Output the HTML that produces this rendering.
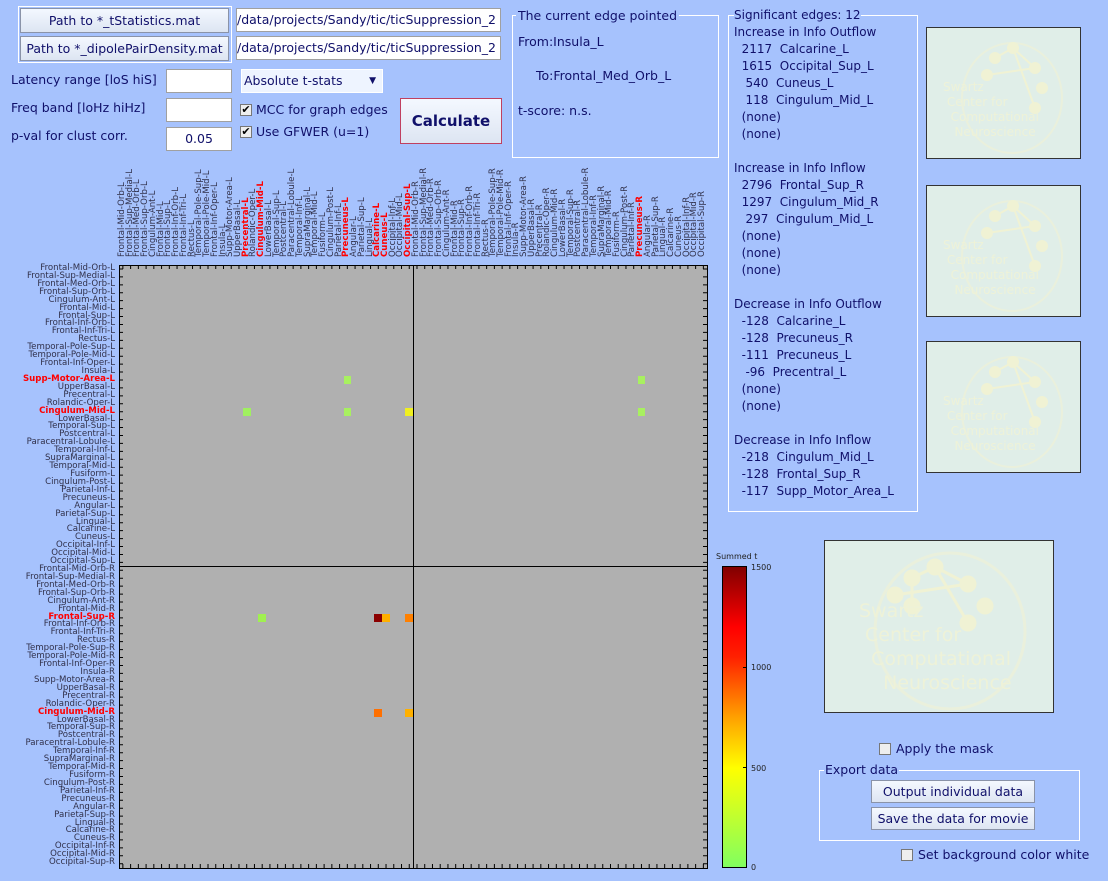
<!DOCTYPE html>
<html><head><meta charset="utf-8"><style>
*{margin:0;padding:0;box-sizing:border-box}
body{width:1108px;height:881px;background:#a6c2fd;position:relative;overflow:hidden;font-family:"DejaVu Sans","Liberation Sans",sans-serif;color:#10106a}
.a{position:absolute}
.btn{position:absolute;background:linear-gradient(#f4f8ff,#dde5f2);border:1px solid #8a93a8;font-size:12.5px;text-align:center;color:#10106a}
.inp{position:absolute;background:#fff;border:1px solid #a0a0a0;font-size:12.5px;white-space:nowrap;overflow:hidden}
.t{position:absolute;font-size:12.5px;white-space:nowrap}
.cb{position:absolute;width:12px;height:12px;border:1px solid #777;background:#eee;font-size:11px;line-height:10px;text-align:center;color:#000}
.rows{position:absolute;left:0;top:265px;width:115px;font-size:8.6px;color:#30304a;text-align:right}
.rows div,.cols div{height:7.93px;line-height:7.93px;white-space:nowrap}
.cols{position:absolute;left:119px;top:257px;width:140px;height:588px;transform-origin:0 0;transform:rotate(-90deg);font-size:8.6px;color:#30304a}
.cols div{height:7.74px;line-height:7.74px}
.r{color:#f00;font-weight:bold}
.box{position:absolute;border:1px solid #fff}
.logo{position:absolute;background:#e0eee8;border:1px solid #333;overflow:hidden;color:#eef2d8;white-space:nowrap}
.logo svg{position:absolute;left:0;top:0}
.cell{position:absolute;width:7.74px;height:7.93px}
</style></head><body>

<div class="a" style="left:18px;top:6px;width:214px;height:57px;border:1px solid #fff"></div>
<div class="btn" style="left:20px;top:8px;width:209px;height:25px;line-height:24px">Path to *_tStatistics.mat</div>
<div class="btn" style="left:20px;top:36px;width:209px;height:25px;line-height:24px">Path to *_dipolePairDensity.mat</div>
<div class="inp" style="left:236px;top:8px;width:265px;height:24px;line-height:22px">/data/projects/Sandy/tic/ticSuppression_2</div>
<div class="inp" style="left:236px;top:36px;width:265px;height:24px;line-height:22px">/data/projects/Sandy/tic/ticSuppression_2</div>

<div class="t" style="left:11px;top:72px">Latency range [loS hiS]</div>
<div class="t" style="left:11px;top:100px">Freq band [loHz hiHz]</div>
<div class="t" style="left:11px;top:128px">p-val for clust corr.</div>
<div class="inp" style="left:166px;top:69px;width:66px;height:24px"></div>
<div class="inp" style="left:166px;top:98px;width:66px;height:24px"></div>
<div class="inp" style="left:166px;top:127px;width:66px;height:24px;text-align:center;line-height:22px">0.05</div>
<div class="inp" style="left:241px;top:69px;width:142px;height:24px;line-height:22px;padding-left:2px;background:#eef4ff;border:1px solid #fff">Absolute t-stats<span style="position:absolute;right:6px;top:0;font-size:9px">▼</span></div>
<div class="cb" style="left:240px;top:104px">✔</div><div class="t" style="left:256px;top:102px">MCC for graph edges</div>
<div class="cb" style="left:240px;top:126px">✔</div><div class="t" style="left:256px;top:124px">Use GFWER (u=1)</div>
<div class="btn" style="left:400px;top:98px;width:102px;height:46px;line-height:44px;font-size:15px;font-weight:bold;border:1px solid #c04060">Calculate</div>

<div class="box" style="left:512px;top:15px;width:207px;height:143px"></div>
<div class="t" style="left:516px;top:8px;background:#a6c2fd;padding:0 2px">The current edge pointed</div>
<div class="t" style="left:518px;top:34px">From:Insula_L</div>
<div class="t" style="left:536px;top:68px">To:Frontal_Med_Orb_L</div>
<div class="t" style="left:518px;top:103px">t-score: n.s.</div>

<div class="box" style="left:728px;top:15px;width:190px;height:497px"></div>
<pre class="a" style="left:734px;top:7px;font-family:'DejaVu Sans',sans-serif;font-size:12px;line-height:17px;color:#10106a"><span style="background:#a6c2fd">Significant edges: 12</span>
Increase in Info Outflow
  2117  Calcarine_L
  1615  Occipital_Sup_L
   540  Cuneus_L
   118  Cingulum_Mid_L
  (none)
  (none)

Increase in Info Inflow
  2796  Frontal_Sup_R
  1297  Cingulum_Mid_R
   297  Cingulum_Mid_L
  (none)
  (none)
  (none)

Decrease in Info Outflow
  -128  Calcarine_L
  -128  Precuneus_R
  -111  Precuneus_L
   -96  Precentral_L
  (none)
  (none)

Decrease in Info Inflow
  -218  Cingulum_Mid_L
  -128  Frontal_Sup_R
  -117  Supp_Motor_Area_L</pre>

<div class="logo" style="left:926px;top:27px;width:155px;height:132px;font-size:12px;line-height:15px;padding:52px 0 0 16px"><svg width="155" height="132"><ellipse cx="85" cy="70" rx="50" ry="55" fill="none" stroke="#eaf0dc" stroke-width="2"/><g fill="#f0f2d4" stroke="#f0f2d4" stroke-width="2"><line x1="68" y1="30" x2="86" y2="20"/><line x1="86" y1="20" x2="108" y2="40"/><line x1="60" y1="47" x2="108" y2="40"/><line x1="86" y1="20" x2="108" y2="80"/><circle cx="68" cy="30" r="5"/><circle cx="86" cy="20" r="5"/><circle cx="108" cy="40" r="5"/><circle cx="60" cy="47" r="5"/><circle cx="115" cy="60" r="5"/><circle cx="108" cy="80" r="5"/></g></svg><div style="position:relative">Swartz<br>&nbsp;Center for<br>&nbsp;&nbsp;Computational<br>&nbsp;&nbsp;&nbsp;Neuroscience</div></div>
<div class="logo" style="left:926px;top:185px;width:155px;height:132px;font-size:12px;line-height:15px;padding:52px 0 0 16px"><svg width="155" height="132"><ellipse cx="85" cy="70" rx="50" ry="55" fill="none" stroke="#eaf0dc" stroke-width="2"/><g fill="#f0f2d4" stroke="#f0f2d4" stroke-width="2"><line x1="68" y1="30" x2="86" y2="20"/><line x1="86" y1="20" x2="108" y2="40"/><line x1="60" y1="47" x2="108" y2="40"/><line x1="86" y1="20" x2="108" y2="80"/><circle cx="68" cy="30" r="5"/><circle cx="86" cy="20" r="5"/><circle cx="108" cy="40" r="5"/><circle cx="60" cy="47" r="5"/><circle cx="115" cy="60" r="5"/><circle cx="108" cy="80" r="5"/></g></svg><div style="position:relative">Swartz<br>&nbsp;Center for<br>&nbsp;&nbsp;Computational<br>&nbsp;&nbsp;&nbsp;Neuroscience</div></div>
<div class="logo" style="left:926px;top:341px;width:155px;height:132px;font-size:12px;line-height:15px;padding:52px 0 0 16px"><svg width="155" height="132"><ellipse cx="85" cy="70" rx="50" ry="55" fill="none" stroke="#eaf0dc" stroke-width="2"/><g fill="#f0f2d4" stroke="#f0f2d4" stroke-width="2"><line x1="68" y1="30" x2="86" y2="20"/><line x1="86" y1="20" x2="108" y2="40"/><line x1="60" y1="47" x2="108" y2="40"/><line x1="86" y1="20" x2="108" y2="80"/><circle cx="68" cy="30" r="5"/><circle cx="86" cy="20" r="5"/><circle cx="108" cy="40" r="5"/><circle cx="60" cy="47" r="5"/><circle cx="115" cy="60" r="5"/><circle cx="108" cy="80" r="5"/></g></svg><div style="position:relative">Swartz<br>&nbsp;Center for<br>&nbsp;&nbsp;Computational<br>&nbsp;&nbsp;&nbsp;Neuroscience</div></div>
<div class="logo" style="left:824px;top:540px;width:230px;height:173px;font-size:19px;line-height:24px;padding:58px 0 0 34px"><svg width="230" height="173"><ellipse cx="125" cy="90" rx="75" ry="78" fill="none" stroke="#eaf0dc" stroke-width="3"/><g fill="#f0f2d4" stroke="#f0f2d4" stroke-width="3"><line x1="87" y1="37" x2="110" y2="26"/><line x1="110" y1="26" x2="143" y2="43"/><line x1="70" y1="54" x2="143" y2="43"/><line x1="110" y1="26" x2="143" y2="82"/><line x1="87" y1="37" x2="87" y2="65"/><circle cx="87" cy="37" r="7"/><circle cx="110" cy="26" r="7"/><circle cx="143" cy="43" r="7"/><circle cx="70" cy="54" r="7"/><circle cx="87" cy="65" r="7"/><circle cx="160" cy="65" r="7"/><circle cx="143" cy="82" r="7"/></g></svg><div style="position:relative">Swartz<br>&nbsp;Center for<br>&nbsp;&nbsp;Computational<br>&nbsp;&nbsp;&nbsp;&nbsp;Neuroscience</div></div>

<div class="cb" style="left:879px;top:743px"></div><div class="t" style="left:896px;top:741px">Apply the mask</div>
<div class="box" style="left:819px;top:770px;width:261px;height:71px"></div>
<div class="t" style="left:824px;top:762px;background:#a6c2fd;padding:0 1px">Export data</div>
<div class="btn" style="left:871px;top:780px;width:164px;height:23px;line-height:22px">Output individual data</div>
<div class="btn" style="left:871px;top:807px;width:164px;height:23px;line-height:22px">Save the data for movie</div>
<div class="cb" style="left:901px;top:849px"></div><div class="t" style="left:918px;top:847px">Set background color white</div>

<!-- matrix -->
<div class="a" style="left:119px;top:265px;width:589px;height:604px;background:#b0b0b0;border:1px solid #000"></div>
<svg class="a" style="left:0;top:0" width="1108" height="881">
<g stroke="#000" fill="none">
<line x1="121" y1="265" x2="121" y2="868" stroke-width="4" stroke-dasharray="1 6.93" stroke-dashoffset="-3.46"/>
<line x1="705" y1="265" x2="705" y2="868" stroke-width="4" stroke-dasharray="1 6.93" stroke-dashoffset="-3.46"/>
<line x1="119" y1="267" x2="707" y2="267" stroke-width="4" stroke-dasharray="1 6.74" stroke-dashoffset="-3.37"/>
<line x1="119" y1="866" x2="707" y2="866" stroke-width="4" stroke-dasharray="1 6.74" stroke-dashoffset="-3.37"/>
<line x1="119" y1="566.5" x2="707" y2="566.5"/>
<line x1="413.5" y1="265" x2="413.5" y2="868"/>
</g>
<defs><linearGradient id="cg" x1="0" y1="1" x2="0" y2="0">
<stop offset="0" stop-color="#80ff60"/><stop offset="0.33" stop-color="#ffff00"/><stop offset="0.5" stop-color="#ffa000"/><stop offset="0.7" stop-color="#ff2000"/><stop offset="0.8" stop-color="#ff0000"/><stop offset="1" stop-color="#800000"/></linearGradient></defs>
<rect x="722.5" y="566.5" width="24" height="301" fill="url(#cg)" stroke="#000"/>
<g font-size="8" fill="#222" font-family="DejaVu Sans,sans-serif">
<text x="716" y="559">Summed t</text>
<text x="751" y="570">1500</text><text x="751" y="670">1000</text><text x="751" y="771">500</text><text x="751" y="870">0</text>
</g>
<g stroke="#000"><line x1="746" y1="667.5" x2="743" y2="667.5"/><line x1="746" y1="767.5" x2="743" y2="767.5"/></g>
</svg>

<div class="cell" style="left:343.5px;top:376px;background:#a8f060"></div>
<div class="cell" style="left:637.6px;top:376px;background:#a8f060"></div>
<div class="cell" style="left:242.8px;top:407.7px;background:#a0f060"></div>
<div class="cell" style="left:343.5px;top:407.7px;background:#a8f060"></div>
<div class="cell" style="left:405.4px;top:407.7px;background:#f0f020"></div>
<div class="cell" style="left:637.6px;top:407.7px;background:#a8f060"></div>
<div class="cell" style="left:258.3px;top:613.9px;background:#a0f050"></div>
<div class="cell" style="left:374.4px;top:613.9px;background:#8b0000"></div>
<div class="cell" style="left:382.2px;top:613.9px;background:#ffb000"></div>
<div class="cell" style="left:405.4px;top:613.9px;background:#ff8000"></div>
<div class="cell" style="left:374.4px;top:709px;background:#ff7000"></div>
<div class="cell" style="left:405.4px;top:709px;background:#ffb000"></div>

<div class="rows">
<div>Frontal-Mid-Orb-L</div><div>Frontal-Sup-Medial-L</div><div>Frontal-Med-Orb-L</div><div>Frontal-Sup-Orb-L</div><div>Cingulum-Ant-L</div><div>Frontal-Mid-L</div><div>Frontal-Sup-L</div><div>Frontal-Inf-Orb-L</div><div>Frontal-Inf-Tri-L</div><div>Rectus-L</div><div>Temporal-Pole-Sup-L</div><div>Temporal-Pole-Mid-L</div><div>Frontal-Inf-Oper-L</div><div>Insula-L</div><div class="r">Supp-Motor-Area-L</div><div>UpperBasal-L</div><div>Precentral-L</div><div>Rolandic-Oper-L</div><div class="r">Cingulum-Mid-L</div><div>LowerBasal-L</div><div>Temporal-Sup-L</div><div>Postcentral-L</div><div>Paracentral-Lobule-L</div><div>Temporal-Inf-L</div><div>SupraMarginal-L</div><div>Temporal-Mid-L</div><div>Fusiform-L</div><div>Cingulum-Post-L</div><div>Parietal-Inf-L</div><div>Precuneus-L</div><div>Angular-L</div><div>Parietal-Sup-L</div><div>Lingual-L</div><div>Calcarine-L</div><div>Cuneus-L</div><div>Occipital-Inf-L</div><div>Occipital-Mid-L</div><div>Occipital-Sup-L</div>
<div>Frontal-Mid-Orb-R</div><div>Frontal-Sup-Medial-R</div><div>Frontal-Med-Orb-R</div><div>Frontal-Sup-Orb-R</div><div>Cingulum-Ant-R</div><div>Frontal-Mid-R</div><div class="r">Frontal-Sup-R</div><div>Frontal-Inf-Orb-R</div><div>Frontal-Inf-Tri-R</div><div>Rectus-R</div><div>Temporal-Pole-Sup-R</div><div>Temporal-Pole-Mid-R</div><div>Frontal-Inf-Oper-R</div><div>Insula-R</div><div>Supp-Motor-Area-R</div><div>UpperBasal-R</div><div>Precentral-R</div><div>Rolandic-Oper-R</div><div class="r">Cingulum-Mid-R</div><div>LowerBasal-R</div><div>Temporal-Sup-R</div><div>Postcentral-R</div><div>Paracentral-Lobule-R</div><div>Temporal-Inf-R</div><div>SupraMarginal-R</div><div>Temporal-Mid-R</div><div>Fusiform-R</div><div>Cingulum-Post-R</div><div>Parietal-Inf-R</div><div>Precuneus-R</div><div>Angular-R</div><div>Parietal-Sup-R</div><div>Lingual-R</div><div>Calcarine-R</div><div>Cuneus-R</div><div>Occipital-Inf-R</div><div>Occipital-Mid-R</div><div>Occipital-Sup-R</div>
</div>

<div class="cols">
<div>Frontal-Mid-Orb-L</div><div>Frontal-Sup-Medial-L</div><div>Frontal-Med-Orb-L</div><div>Frontal-Sup-Orb-L</div><div>Cingulum-Ant-L</div><div>Frontal-Mid-L</div><div>Frontal-Sup-L</div><div>Frontal-Inf-Orb-L</div><div>Frontal-Inf-Tri-L</div><div>Rectus-L</div><div>Temporal-Pole-Sup-L</div><div>Temporal-Pole-Mid-L</div><div>Frontal-Inf-Oper-L</div><div>Insula-L</div><div>Supp-Motor-Area-L</div><div>UpperBasal-L</div><div class="r">Precentral-L</div><div>Rolandic-Oper-L</div><div class="r">Cingulum-Mid-L</div><div>LowerBasal-L</div><div>Temporal-Sup-L</div><div>Postcentral-L</div><div>Paracentral-Lobule-L</div><div>Temporal-Inf-L</div><div>SupraMarginal-L</div><div>Temporal-Mid-L</div><div>Fusiform-L</div><div>Cingulum-Post-L</div><div>Parietal-Inf-L</div><div class="r">Precuneus-L</div><div>Angular-L</div><div>Parietal-Sup-L</div><div>Lingual-L</div><div class="r">Calcarine-L</div><div class="r">Cuneus-L</div><div>Occipital-Inf-L</div><div>Occipital-Mid-L</div><div class="r">Occipital-Sup-L</div>
<div>Frontal-Mid-Orb-R</div><div>Frontal-Sup-Medial-R</div><div>Frontal-Med-Orb-R</div><div>Frontal-Sup-Orb-R</div><div>Cingulum-Ant-R</div><div>Frontal-Mid-R</div><div>Frontal-Sup-R</div><div>Frontal-Inf-Orb-R</div><div>Frontal-Inf-Tri-R</div><div>Rectus-R</div><div>Temporal-Pole-Sup-R</div><div>Temporal-Pole-Mid-R</div><div>Frontal-Inf-Oper-R</div><div>Insula-R</div><div>Supp-Motor-Area-R</div><div>UpperBasal-R</div><div>Precentral-R</div><div>Rolandic-Oper-R</div><div>Cingulum-Mid-R</div><div>LowerBasal-R</div><div>Temporal-Sup-R</div><div>Postcentral-R</div><div>Paracentral-Lobule-R</div><div>Temporal-Inf-R</div><div>SupraMarginal-R</div><div>Temporal-Mid-R</div><div>Fusiform-R</div><div>Cingulum-Post-R</div><div>Parietal-Inf-R</div><div class="r">Precuneus-R</div><div>Angular-R</div><div>Parietal-Sup-R</div><div>Lingual-R</div><div>Calcarine-R</div><div>Cuneus-R</div><div>Occipital-Inf-R</div><div>Occipital-Mid-R</div><div>Occipital-Sup-R</div>
</div>

</body></html>
